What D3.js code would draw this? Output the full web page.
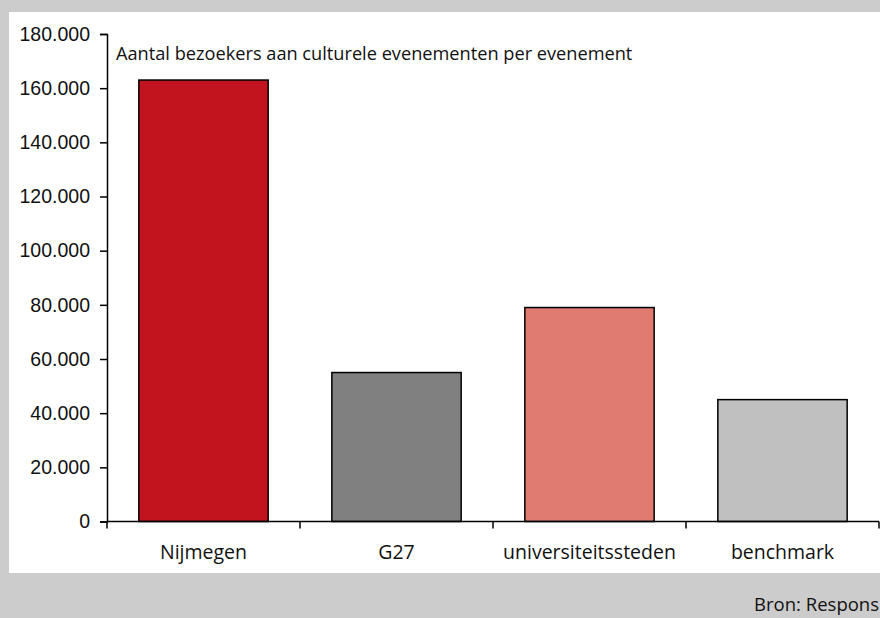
<!DOCTYPE html>
<html>
<head>
<meta charset="utf-8">
<script src="https://cdn.jsdelivr.net/npm/d3@7"></script>
<style>
  body { margin: 0; background: #cccccc; }
  svg { display: block; font-family: "Open Sans", "Noto Sans", sans-serif; }
</style>
</head>
<body>
<svg id="chart" width="880" height="618"></svg>
<script>
const categories = ["Nijmegen", "G27", "universiteitssteden", "benchmark"];
const values = [163000, 55000, 79000, 45000];
const barColors = ["#c1141e", "#808080", "#e07b70", "#c0c0c0"];
const yTicks = [0, 20000, 40000, 60000, 80000, 100000, 120000, 140000, 160000, 180000];

const svg = d3.select("#chart");
const margin = { top: 34, right: 1, bottom: 96.5, left: 107 };
const width = 880, height = 618;
const innerWidth = width - margin.left - margin.right;
const innerHeight = height - margin.top - margin.bottom;

svg.append("rect").attr("width", width).attr("height", height).attr("fill", "#cccccc");
svg.append("rect").attr("x", 9).attr("y", 12).attr("width", width - 9).attr("height", 561).attr("fill", "#ffffff");

const x = d3.scaleBand().domain(categories).range([0, innerWidth]).paddingInner(0.33).paddingOuter(0.165);
const band = d3.scaleBand().domain(categories).range([0, innerWidth]);
const y = d3.scaleLinear().domain([0, 180000]).range([innerHeight, 0]);
const fmt = d => d3.format(",")(d).replace(/,/g, ".");

const g = svg.append("g").attr("transform", `translate(${margin.left},${margin.top})`);

g.selectAll("rect.bar")
  .data(categories)
  .join("rect")
  .attr("class", "bar")
  .attr("x", d => x(d))
  .attr("y", (d, i) => y(values[i]))
  .attr("width", x.bandwidth())
  .attr("height", (d, i) => y(0) - y(values[i]))
  .attr("fill", (d, i) => barColors[i])
  .attr("stroke", "#000")
  .attr("stroke-width", 1.5);

const yAxis = g.append("g")
  .call(d3.axisLeft(y).tickValues(yTicks).tickSize(7).tickPadding(10).tickFormat(fmt));
yAxis.select(".domain").attr("stroke", "#000").attr("stroke-width", 1.5);
yAxis.selectAll(".tick line").attr("stroke", "#000").attr("stroke-width", 1.5);
yAxis.selectAll("text").attr("font-size", 19.5).attr("fill", "#111");

const xAxis = g.append("g").attr("transform", `translate(0,${innerHeight})`);
xAxis.append("line").attr("x1", 0).attr("x2", innerWidth).attr("stroke", "#000").attr("stroke-width", 1.5);
const edges = categories.map(d => band(d)).concat([innerWidth]);
xAxis.selectAll("line.tick")
  .data(edges)
  .join("line")
  .attr("class", "tick")
  .attr("x1", d => d).attr("x2", d => d)
  .attr("y1", 0).attr("y2", 7)
  .attr("stroke", "#000").attr("stroke-width", 1.5);
xAxis.selectAll("text")
  .data(categories)
  .join("text")
  .attr("x", d => band(d) + band.bandwidth() / 2)
  .attr("y", 37)
  .attr("text-anchor", "middle")
  .attr("font-size", 19.5)
  .attr("fill", "#111")
  .text(d => d);

svg.append("text")
  .attr("x", 116).attr("y", 60)
  .attr("font-size", 18.2)
  .attr("fill", "#111")
  .text("Aantal bezoekers aan culturele evenementen per evenement");

svg.append("text")
  .attr("x", 879).attr("y", 611)
  .attr("text-anchor", "end")
  .attr("font-size", 18.5)
  .attr("fill", "#111")
  .text("Bron: Respons");
</script>
</body>
</html>
